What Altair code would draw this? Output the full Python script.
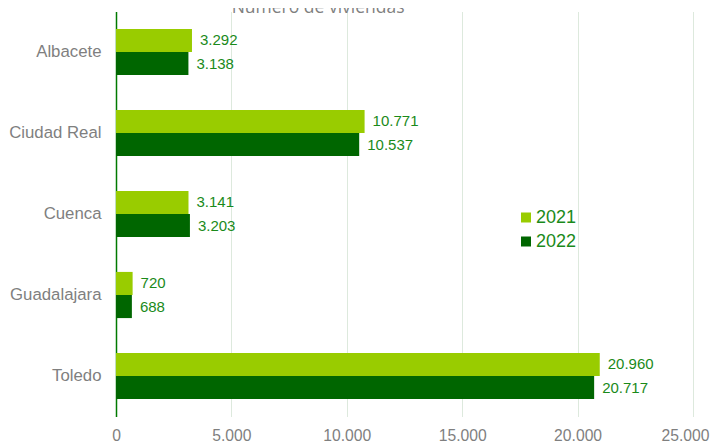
import altair as alt
import pandas as pd

provinces = ["Albacete", "Ciudad Real", "Cuenca", "Guadalajara", "Toledo"]
years = ["2021", "2022"]
values_2021 = [3292, 10771, 3141, 720, 20960]
values_2022 = [3138, 10537, 3203, 688, 20717]
x_ticks = [0, 5000, 10000, 15000, 20000, 25000]

rows = []
for p, a, b in zip(provinces, values_2021, values_2022):
    rows.append({"provincia": p, "año": "2021", "valor": a})
    rows.append({"provincia": p, "año": "2022", "valor": b})
df = pd.DataFrame(rows)

color_scale = alt.Scale(domain=years, range=["#99cc00", "#006600"])

base = alt.Chart(df).encode(
    y=alt.Y(
        "provincia:N",
        sort=provinces,
        title=None,
        scale=alt.Scale(paddingInner=0.43, paddingOuter=0.215),
        axis=alt.Axis(
            labelFontSize=16.8,
            labelColor="#7f7f7f",
            labelFont="Liberation Sans",
            labelPadding=15,
            ticks=False,
            domain=True,
            domainColor="#007a00",
            domainWidth=1.5,
            grid=False,
        ),
    ),
    yOffset=alt.YOffset("año:N", sort=years, scale=alt.Scale(paddingInner=0, paddingOuter=0)),
)

bars = base.mark_bar().encode(
    x=alt.X(
        "valor:Q",
        title=None,
        scale=alt.Scale(domain=[0, 25000], nice=False),
        axis=alt.Axis(
            values=x_ticks,
            labelExpr="replace(format(datum.value, ','), ',', '.')",
            labelFontSize=15.7,
            labelColor="#7f7f7f",
            labelFont="Liberation Sans",
            labelPadding=12,
            labelFlush=False,
            labelOffset={"condition": {"test": "datum.value >= 25000", "value": -8}, "value": 0},
            ticks=False,
            domain=False,
            grid=True,
            gridColor="#dde9dd",
            gridWidth=1,
        ),
    ),
    color=alt.Color(
        "año:N",
        scale=color_scale,
        title=None,
        legend=alt.Legend(
            orient="none",
            legendX=401,
            legendY=197,
            symbolType="square",
            symbolSize=100,
            symbolStrokeWidth=0,
            labelFontSize=18,
            labelColor="#1a8a1a",
            labelFont="Liberation Sans",
            rowPadding=6,
            padding=0,
            labelOffset=1,
        ),
    ),
)

labels = base.transform_calculate(
    etiqueta="replace(format(datum.valor, ','), ',', '.')"
).mark_text(
    align="left", baseline="middle", dx=8, fontSize=15, color="#1a8a1a", font="Liberation Sans"
).encode(
    x="valor:Q",
    text="etiqueta:N",
)

chart = (
    alt.layer(bars, labels)
    .properties(
        width=577,
        height=405,
        title=alt.TitleParams(
            "Número de viviendas",
            fontSize=17.5,
            font="Open Sans",
            fontWeight="normal",
            color="#7f7f7f",
            anchor="start",
            dx=223,
            offset=-5,
        ),
        autosize=alt.AutoSizeParams(type="none"),
        padding={"left": 108, "top": 3.5, "right": 18, "bottom": 31.5},
    )
    .configure_view(stroke=None)
)

chart.save("out.html", embed_options={"renderer": "svg", "actions": False})
